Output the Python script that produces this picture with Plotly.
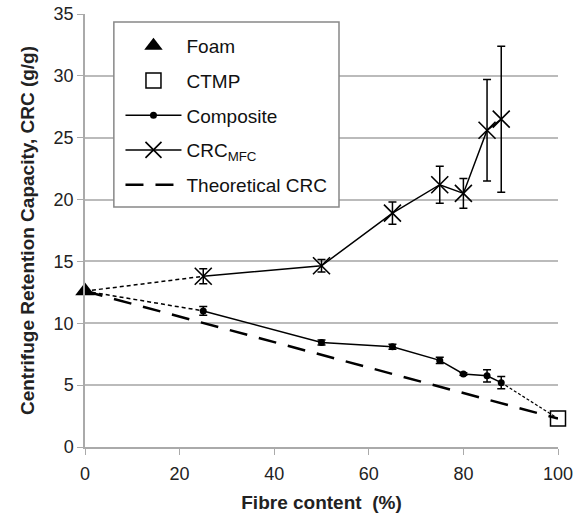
import plotly.graph_objects as go

# Data
foam_x = [0]
foam_y = [12.6]
ctmp_x = [100]
ctmp_y = [2.3]

comp_x = [25, 50, 65, 75, 80, 85, 88]
comp_y = [11.0, 8.45, 8.1, 7.0, 5.9, 5.75, 5.2]
comp_err = [0.35, 0.2, 0.2, 0.25, 0.1, 0.5, 0.5]

mfc_x = [25, 50, 65, 75, 80, 85, 88]
mfc_y = [13.8, 14.65, 18.9, 21.2, 20.5, 25.6, 26.5]
mfc_err = [0.6, 0.5, 0.9, 1.5, 1.2, 4.1, 5.9]

theo_x = [0, 100]
theo_y = [12.6, 2.3]

x_ticks = [0, 20, 40, 60, 80, 100]
y_ticks = [0, 5, 10, 15, 20, 25, 30, 35]

FONT = "Liberation Sans, Arial, sans-serif"

fig = go.Figure()

# dotted connectors (not in legend)
fig.add_trace(go.Scatter(x=[foam_x[0], mfc_x[0]], y=[foam_y[0], mfc_y[0]], mode="lines",
                         line=dict(color="black", width=1.5, dash="4px,3px"), showlegend=False, hoverinfo="skip"))
fig.add_trace(go.Scatter(x=[foam_x[0], comp_x[0]], y=[foam_y[0], comp_y[0]], mode="lines",
                         line=dict(color="black", width=1.5, dash="4px,3px"), showlegend=False, hoverinfo="skip"))
fig.add_trace(go.Scatter(x=[comp_x[-1], ctmp_x[0]], y=[comp_y[-1], ctmp_y[0]], mode="lines",
                         line=dict(color="black", width=1.2, dash="3px,2px"), showlegend=False, hoverinfo="skip"))

fig.add_trace(go.Scatter(x=theo_x, y=theo_y, mode="lines", name="Theoretical CRC",
                         line=dict(color="black", width=2.5, dash="18px,12px"),
                         legendgroup="e", legendrank=5))

fig.add_trace(go.Scatter(x=comp_x, y=comp_y, mode="lines+markers", name="Composite",
                         line=dict(color="black", width=1.5),
                         marker=dict(symbol="circle", size=7, color="black"),
                         error_y=dict(type="data", array=comp_err, color="black", thickness=1.5, width=4),
                         legendgroup="c", legendrank=3))

fig.add_trace(go.Scatter(x=mfc_x, y=mfc_y, mode="lines+markers", name="CRC<sub>MFC</sub>",
                         line=dict(color="black", width=1.5),
                         marker=dict(symbol="x-thin", size=17, line=dict(color="black", width=1.6)),
                         error_y=dict(type="data", array=mfc_err, color="black", thickness=1.5, width=4),
                         legendgroup="d", legendrank=4))

fig.add_trace(go.Scatter(x=ctmp_x, y=ctmp_y, mode="markers", name="CTMP",
                         marker=dict(symbol="square-open", size=15, color="black", line=dict(width=1.5)),
                         legendgroup="b", legendrank=2, cliponaxis=False))

fig.add_trace(go.Scatter(x=foam_x, y=foam_y, mode="markers", name="Foam",
                         marker=dict(symbol="triangle-up", size=17, color="black"),
                         legendgroup="a", legendrank=1, cliponaxis=False))

# legend frame (pixel targets converted to paper coords)
fig.add_shape(type="rect", xref="paper", yref="paper",
              x0=0.061, x1=0.537, y0=0.554, y1=0.9815,
              line=dict(color="#888", width=1.5), fillcolor="white", layer="above")

fig.update_layout(
    width=584, height=514,
    margin=dict(l=85, r=26, t=14, b=67, autoexpand=False),
    paper_bgcolor="white", plot_bgcolor="white",
    font=dict(family=FONT, color="#222", size=18),
    legend=dict(x=0.075, y=0.97, xanchor="left", yanchor="top",
                borderwidth=0, bgcolor="rgba(0,0,0,0)",
                font=dict(size=19, color="#111"), tracegroupgap=7,
                itemwidth=56, traceorder="grouped"),
    xaxis=dict(range=[0, 100], tickvals=x_ticks, showgrid=False, zeroline=False,
               showline=True, linecolor="#aaa", linewidth=1.5, automargin=False,
               ticks="outside", tickcolor="#aaa", ticklen=6, ticklabelstandoff=4,
               tickfont=dict(size=18),
               title=dict(text="<b>Fibre content  (%)</b>", font=dict(size=19), standoff=12)),
    yaxis=dict(range=[0, 35], tickvals=y_ticks, showgrid=True, gridcolor="#bbb", gridwidth=1.5,
               zeroline=False, showline=True, linecolor="#aaa", linewidth=1.5, automargin=False,
               ticks="outside", tickcolor="#aaa", ticklen=6, ticklabeloverflow="allow",
               tickfont=dict(size=18),
               title=dict(text="<b>Centrifuge Retention Capacity, CRC (g/g)</b>", font=dict(size=19), standoff=14)),
)

fig.write_html("out.html", config={"displayModeBar": False},
               post_script="document.body.style.margin='0';document.body.style.overflow='hidden';")
